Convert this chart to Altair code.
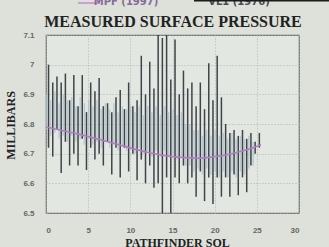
import altair as alt
import pandas as pd

# MPF (1997) daily pressure swings (strokes)
mpf_sol = [0.3, 0.8, 1.3, 1.8, 2.3, 2.8, 3.3, 3.8, 4.3, 4.8, 5.3, 5.8, 6.3, 6.8, 7.3, 7.8,
           8.3, 8.8, 9.3, 9.8, 10.3, 10.8, 11.3, 11.8, 12.3, 12.8, 13.3, 13.8, 14.3, 14.8,
           15.3, 15.8, 16.3, 16.8, 17.3, 17.8, 18.3, 18.8, 19.3, 19.8, 20.3, 20.8, 21.3,
           21.8, 22.3, 22.8, 23.3, 23.8, 24.3, 24.8, 25.3]
mpf_high = [7.00, 6.94, 6.96, 6.94, 6.97, 6.88, 6.965, 6.86, 6.965, 6.84, 6.94, 6.91, 6.955,
            6.86, 6.87, 6.84, 6.89, 6.915, 6.85, 6.94, 6.86, 6.88, 7.03, 6.90, 7.01, 6.92,
            7.10, 7.09, 7.10, 6.95, 7.085, 6.90, 6.98, 6.92, 6.94, 6.86, 6.94, 6.85, 7.005,
            6.88, 7.03, 6.89, 6.80, 6.77, 6.78, 6.76, 6.78, 6.75, 6.77, 6.74, 6.77]
mpf_low = [6.72, 6.69, 6.78, 6.635, 6.74, 6.66, 6.70, 6.66, 6.75, 6.645, 6.72, 6.68, 6.70,
           6.66, 6.74, 6.63, 6.72, 6.62, 6.72, 6.64, 6.70, 6.61, 6.68, 6.60, 6.66, 6.585,
           6.60, 6.50, 6.62, 6.50, 6.62, 6.60, 6.66, 6.60, 6.62, 6.555, 6.64, 6.54, 6.62,
           6.53, 6.62, 6.555, 6.62, 6.555, 6.63, 6.56, 6.62, 6.57, 6.66, 6.70, 6.72]

# VL1 (1976) swings (light strokes)
vl1_sol = [0.05, 0.55, 1.05, 1.55, 2.05, 2.55, 3.05, 3.55, 4.05, 4.55, 5.05, 5.55, 6.05,
           6.55, 7.05, 7.55, 8.05, 8.55, 9.05, 9.55, 10.05, 10.55, 11.05, 11.55, 12.05,
           12.55, 13.05, 13.55, 14.05, 14.55, 15.05, 15.55, 16.05, 16.55, 17.05, 17.55,
           18.05, 18.55, 19.05, 19.55, 20.05, 20.55, 21.05, 21.55, 22.05, 22.55, 23.05,
           23.55, 24.05, 24.55]
vl1_high = [6.90, 6.88, 6.91, 6.87, 6.90, 6.88, 6.89, 6.86, 6.89, 6.87, 6.88, 6.86, 6.88,
            6.85, 6.87, 6.85, 6.87, 6.84, 6.86, 6.85, 6.86, 6.84, 6.86, 6.83, 6.86, 6.84,
            6.86, 6.83, 6.86, 6.84, 6.85, 6.83, 6.84, 6.80, 6.80, 6.78, 6.78, 6.76, 6.78,
            6.76, 6.78, 6.76, 6.77, 6.75, 6.77, 6.75, 6.76, 6.75, 6.76, 6.74]
vl1_low = [6.78, 6.76, 6.77, 6.75, 6.76, 6.74, 6.76, 6.74, 6.75, 6.73, 6.75, 6.73, 6.74,
           6.72, 6.74, 6.72, 6.73, 6.71, 6.73, 6.71, 6.72, 6.70, 6.72, 6.70, 6.71, 6.69,
           6.71, 6.69, 6.71, 6.69, 6.70, 6.68, 6.69, 6.66, 6.66, 6.64, 6.65, 6.63, 6.65,
           6.63, 6.64, 6.62, 6.64, 6.62, 6.64, 6.62, 6.64, 6.63, 6.65, 6.66]

# Smooth trend
trend_sol = [0, 4, 8, 12, 15, 18, 20, 22, 24, 25.5]
trend_val = [6.79, 6.765, 6.735, 6.705, 6.69, 6.685, 6.69, 6.70, 6.715, 6.73]

x_ticks = [0, 5, 10, 15, 20, 25, 30]
y_ticks = [6.5, 6.6, 6.7, 6.8, 6.9, 7.0, 7.1]

mpf = pd.DataFrame({"sol": mpf_sol, "lo": mpf_low, "hi": mpf_high})
vl1 = pd.DataFrame({"sol": vl1_sol, "lo": vl1_low, "hi": vl1_high})
trend = pd.DataFrame({"sol": trend_sol, "p": trend_val})

xs = alt.Scale(domain=[0, 30], nice=False)
ys = alt.Scale(domain=[6.5, 7.1], nice=False, zero=False)

xax = alt.Axis(values=x_ticks, title="PATHFINDER SOL", grid=True, ticks=False,
               labelPadding=13, labelFontSize=8, labelFontWeight="bold", labelColor="#666",
               labelOverlap=False, domain=False, titleFont="Liberation Serif", titleFontSize=12,
               titleFontWeight="bold", titleColor="#222", titleX=131, titleY=33,
               titleBaseline="alphabetic", titleAlign="center")
yax = alt.Axis(values=y_ticks, title="MILLIBARS", grid=True, ticks=False,
               labelPadding=12, labelFontSize=8, labelFontWeight="bold", labelColor="#666",
               labelOverlap=False, labelBound=False, domain=False,
               labelExpr="datum.value > 6.95 && datum.value < 7.05 ? '7' : format(datum.value, '.1f')",
               titleFont="Liberation Serif", titleFontSize=12, titleFontWeight="bold",
               titleColor="#222", titleX=-36, titleY=90, titleAngle=270,
               titleAlign="center", titleBaseline="middle")

vl1_layer = alt.Chart(vl1).mark_rule(color="#a9bdcb", strokeWidth=1.4, opacity=0.75).encode(
    x=alt.X("sol:Q", scale=xs, axis=xax),
    y=alt.Y("lo:Q", scale=ys, axis=yax),
    y2="hi:Q",
)
mpf_layer = alt.Chart(mpf).mark_rule(color="#3e4449", strokeWidth=1.5).encode(
    x=alt.X("sol:Q", scale=xs, axis=xax),
    y=alt.Y("lo:Q", scale=ys, axis=yax),
    y2="hi:Q",
)
trend_layer = alt.Chart(trend).mark_line(color="#b07cc2", strokeWidth=1.6,
                                         interpolate="monotone").encode(
    x=alt.X("sol:Q", scale=xs, axis=xax),
    y=alt.Y("p:Q", scale=ys, axis=yax),
)

title_layer = alt.Chart(pd.DataFrame({"t": ["MEASURED SURFACE PRESSURE"]})).mark_text(
    font="Liberation Serif", fontSize=16, fontWeight="bold", color="#222",
    baseline="alphabetic", align="center").encode(
    text="t:N", x=alt.value(127), y=alt.value(-8))
leg1 = alt.Chart(pd.DataFrame({"t": ["MPF (1997)"]})).mark_text(
    font="DejaVu Sans", fontSize=10, fontWeight="bold", color="#8a6a9a",
    baseline="alphabetic", align="center").encode(
    text="t:N", x=alt.value(80), y=alt.value(-30))
leg2 = alt.Chart(pd.DataFrame({"t": ["VL1 (1976)"]})).mark_text(
    font="DejaVu Sans", fontSize=10, fontWeight="bold", color="#4a4a55",
    baseline="alphabetic", align="center").encode(
    text="t:N", x=alt.value(193), y=alt.value(-30))
leg_line = alt.Chart(pd.DataFrame({"a": [1]})).mark_rule(color="#c9a0cf", strokeWidth=2).encode(
    x=alt.value(32), x2=alt.value(54), y=alt.value(-32))
top_bar = alt.Chart(pd.DataFrame({"a": [1]})).mark_rule(color="#1a1a1a", strokeWidth=3).encode(
    x=alt.value(148), x2=alt.value(290), y=alt.value(-35))

chart = alt.layer(vl1_layer, mpf_layer, trend_layer, title_layer, leg_line, leg1, leg2,
                  top_bar).properties(
    width=253, height=178,
    autosize=alt.AutoSizeParams(type="none"),
    padding={"left": 46, "top": 35, "right": 30, "bottom": 34},
    background="#dde1da",
).configure_view(
    stroke="#6a6e6a", strokeWidth=1.2, fill="#e3e7e1",
).configure_axis(
    gridColor="#b0b5b0", gridDash=[1, 2], gridWidth=1, labelOverlap=False,
)

chart.save("out.html", embed_options={"renderer": "svg", "actions": False})
